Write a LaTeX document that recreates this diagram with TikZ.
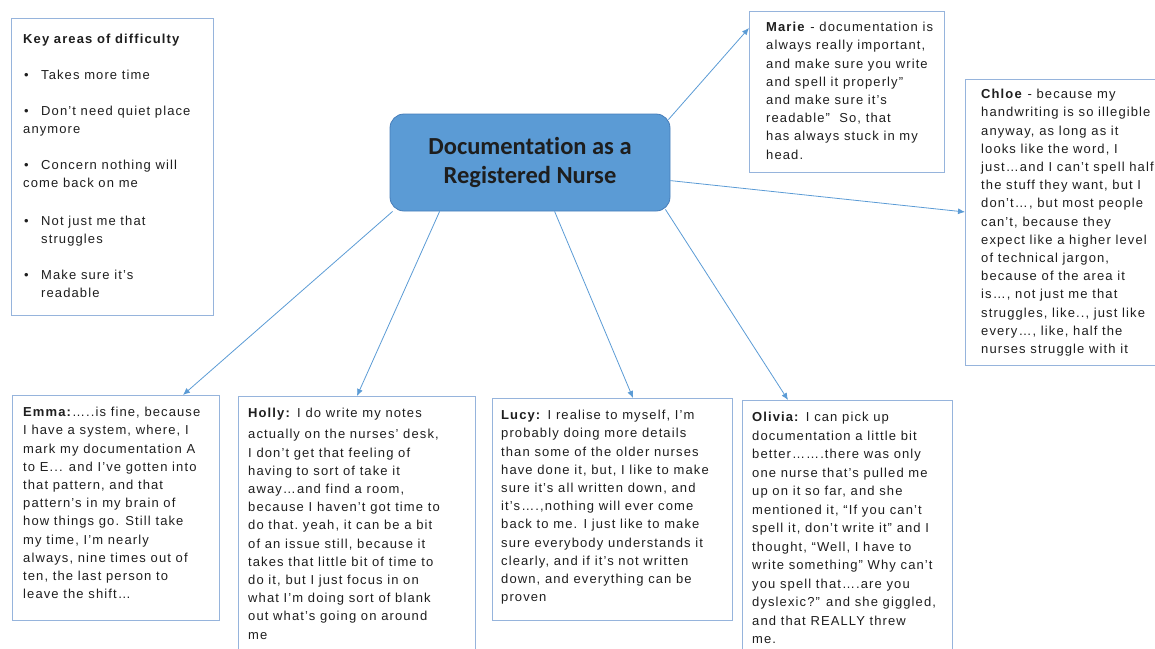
\documentclass[tikz,border=0pt]{standalone}
\usepackage{fontspec}
\setmainfont{Liberation Sans}
\newfontfamily\bodyfont{Liberation Sans}[LetterSpace=8.5]
\newfontfamily\headfont{Carlito}[Ligatures=NoCommon]
\usetikzlibrary{arrows.meta,calc}
\definecolor{hubfill}{RGB}{91,155,213}
\definecolor{hubline}{RGB}{70,125,185}
\definecolor{boxline}{RGB}{150,180,220}
\definecolor{arrowc}{RGB}{91,155,213}
\definecolor{txt}{RGB}{30,30,30}
\begin{document}
\begin{tikzpicture}[x=1pt,y=-1pt,
  box/.style={draw=boxline,line width=1pt,anchor=north west,inner sep=0pt},
  block/.style={anchor=north west,inner sep=0pt,align=left,text=txt,
    font=\bodyfont\fontsize{13}{18.2}\selectfont},
  hubnode/.style={draw=hubline,fill=hubfill,line width=0.8pt,rounded corners=14pt,
    minimum width=280pt,minimum height=97pt,inner sep=0pt,align=center,text=txt,
    font=\headfont\bfseries\fontsize{24.5}{29}\selectfont},
  conn/.style={draw=arrowc,line width=0.8pt,-{Latex[length=7pt,width=6pt]}}]
\useasboundingbox (0,0) rectangle (1155,648);

% boxes
\node[box,minimum width=202pt,minimum height=297pt] (key) at (11,18) {};
\node[box,minimum width=195pt,minimum height=161pt] (marie) at (749,11) {};
\node[box,minimum width=200pt,minimum height=286pt] (chloe) at (965,79) {};
\node[box,minimum width=207pt,minimum height=225pt] (emma) at (12,395) {};
\node[box,minimum width=237pt,minimum height=260pt] (holly) at (238,396) {};
\node[box,minimum width=240pt,minimum height=222pt] (lucy) at (492,398) {};
\node[box,minimum width=210pt,minimum height=255pt] (olivia) at (742,400) {};

% central node
\node[hubnode] (hub) at (530,162.5) {Documentation as a\\Registered Nurse};

% key areas text
\node[block] (ktitle) at (23,34) {\textbf{Key areas of difficulty}};
\node[block] (k1) at (23,70) {\makebox[18pt][l]{\hspace{1pt}•}Takes more time};
\node[block] (k2) at (23,106) {\makebox[18pt][l]{\hspace{1pt}•}Don’t need quiet place\\anymore};
\node[block] (k3) at (23,160) {\makebox[18pt][l]{\hspace{1pt}•}Concern nothing will\\come back on me};
\node[block] (k4) at (23,216) {\makebox[18pt][l]{\hspace{1pt}•}Not just me that\\\hspace{18pt}struggles};
\node[block] (k5) at (23,270) {\makebox[18pt][l]{\hspace{1pt}•}Make sure it’s\\\hspace{18pt}readable};

% quotes
\node[block] (tmarie) at (766,22) {\textbf{Marie} - documentation is\\always really important,\\and make sure you write\\and spell it properly”\\and make sure it’s\\readable”\ \ So, that\\has always stuck in my\\head.};
\node[block] (tchloe) at (981,89) {\textbf{Chloe} - because my\\handwriting is so illegible\\anyway, as long as it\\looks like the word, I\\just…and I can’t spell half\\the stuff they want, but I\\don’t…, but most people\\can’t, because they\\expect like a higher level\\of technical jargon,\\because of the area it\\is…, not just me that\\struggles, like.., just like\\every…, like, half the\\nurses struggle with it};
\node[block] (temma) at (23,407) {\textbf{Emma:}…..is fine, because\\I have a system, where, I\\mark my documentation A\\to E... and I’ve gotten into\\that pattern, and that\\pattern’s in my brain of\\how things go. Still take\\my time, I’m nearly\\always, nine times out of\\ten, the last person to\\leave the shift…};
\node[block] (tholly) at (248,408) {\textbf{Holly:} I do write my notes\\[3pt]actually on the nurses’ desk,\\I don’t get that feeling of\\having to sort of take it\\away…and find a room,\\because I haven’t got time to\\do that.\ yeah, it can be a bit\\of an issue still, because it\\takes that little bit of time to\\do it, but I just focus in on\\what I’m doing sort of blank\\out what’s going on around\\me};
\node[block] (tlucy) at (501,410) {\textbf{Lucy:} I realise to myself, I’m\\probably doing more details\\than some of the older nurses\\have done it, but, I like to make\\sure it’s all written down, and\\it’s….,nothing will ever come\\back to me. I just like to make\\sure everybody understands it\\clearly, and if it’s not written\\down, and everything can be\\proven};
\node[block,font=\bodyfont\fontsize{13}{18.5}\selectfont] (tolivia) at (752,412) {\textbf{Olivia:} I can pick up\\documentation a little bit\\better…….there was only\\one nurse that’s pulled me\\up on it so far, and she\\mentioned it, “If you can’t\\spell it, don’t write it” and I\\thought, “Well, I have to\\write something” Why can’t\\you spell that….are you\\dyslexic?” and she giggled,\\and that REALLY threw\\me.};

% connectors
\draw[conn] ($(hub.north east)+(-2,6)$) -- ($(marie.north west)+(0,17)$);
\draw[conn] ($(hub.north east)+(0,67)$) -- ($(chloe.north west)+(0,133)$);
\draw[conn] ($(hub.south west)+(3,0)$) -- ($(emma.north west)+(171,0)$);
\draw[conn] ($(hub.south west)+(50,0)$) -- ($(holly.north west)+(119,0)$);
\draw[conn] ($(hub.south west)+(165,0)$) -- ($(lucy.north west)+(141,0)$);
\draw[conn] ($(hub.south east)+(-5,-2)$) -- ($(olivia.north west)+(46,0)$);
\end{tikzpicture}
\end{document}
